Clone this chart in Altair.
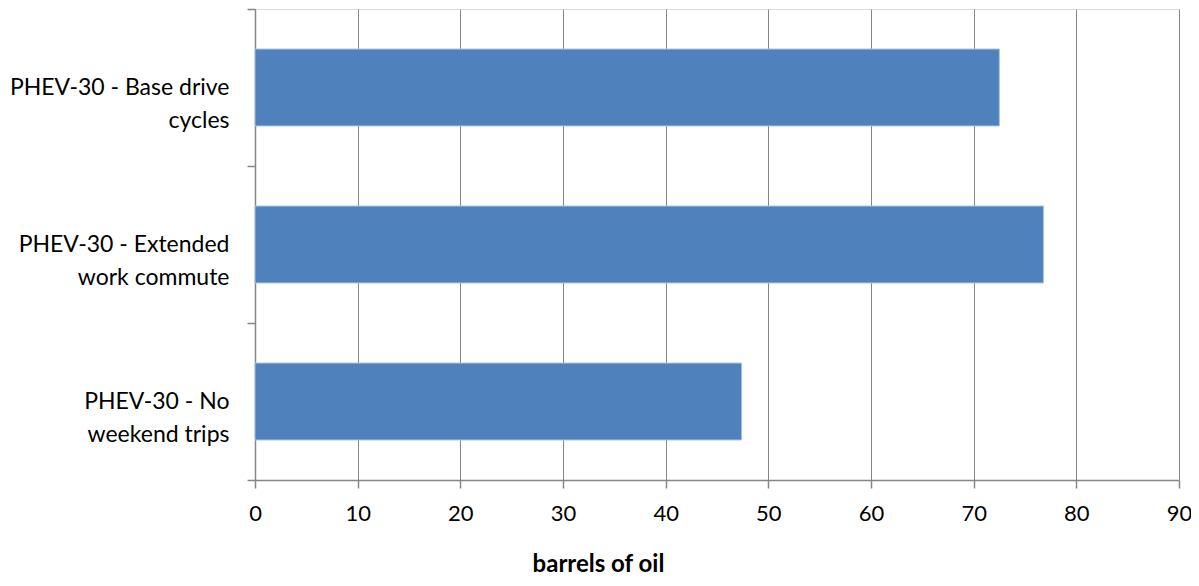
import altair as alt
import pandas as pd

categories = [
    "PHEV-30 - Base drive\ncycles",
    "PHEV-30 - Extended\nwork commute",
    "PHEV-30 - No\nweekend trips",
]
values = [72.5, 76.8, 47.4]
x_ticks = [0, 10, 20, 30, 40, 50, 60, 70, 80, 90]
x_title = "barrels of oil"

df = pd.DataFrame({"scenario": categories, "barrels": values})

FONT = "Lato"
GRID = "#868686"

bars = alt.Chart(df).mark_bar(
    color="#4F81BD", stroke="#A9C1DF", strokeWidth=1, height={"band": 0.49}
).encode(
    x=alt.X(
        "barrels:Q",
        scale=alt.Scale(domain=[0, 90], nice=False, zero=True),
        axis=alt.Axis(
            values=x_ticks,
            title=x_title,
            grid=True,
            gridColor=GRID,
            gridWidth=1,
            gridOpacity=1,
            domainColor=GRID,
            domainWidth=1.5,
            tickColor=GRID,
            tickSize=8,
            tickWidth=1.5,
            labelFont=FONT,
            labelFontSize=22,
            labelColor="#000000",
            labelPadding=15,
            labelFlush=False,
            titleFont=FONT,
            titleFontSize=24,
            titleFontWeight="bold",
            titleColor="#000000",
            titleBaseline="alphabetic",
            titleAlign="center",
            titleAnchor="start",
            titleX=343,
            titleY=91,
        ),
    ),
    y=alt.Y(
        "scenario:N",
        sort=categories,
        scale=alt.Scale(paddingInner=0, paddingOuter=0),
        axis=alt.Axis(
            title=None,
            grid=False,
            domainColor=GRID,
            domainWidth=1.5,
            tickColor=GRID,
            tickSize=8,
            tickWidth=1.5,
            tickBand="extent",
            labelExpr="split(datum.label, '\\n')",
            labelFont=FONT,
            labelFontSize=23,
            labelColor="#000000",
            labelLineHeight=33,
            labelAlign="right",
            labelBaseline="middle",
            labelPadding=18,
            labelLimit=400,
        ),
    ),
)

chart = bars.properties(
    width=924,
    height=471,
    autosize=alt.AutoSizeParams(type="none"),
    padding={"left": 247, "top": 1, "right": 12, "bottom": 98},
).configure_view(stroke=None).configure(background="#ffffff")

chart.save("out.html", embed_options={"renderer": "svg", "actions": False})
